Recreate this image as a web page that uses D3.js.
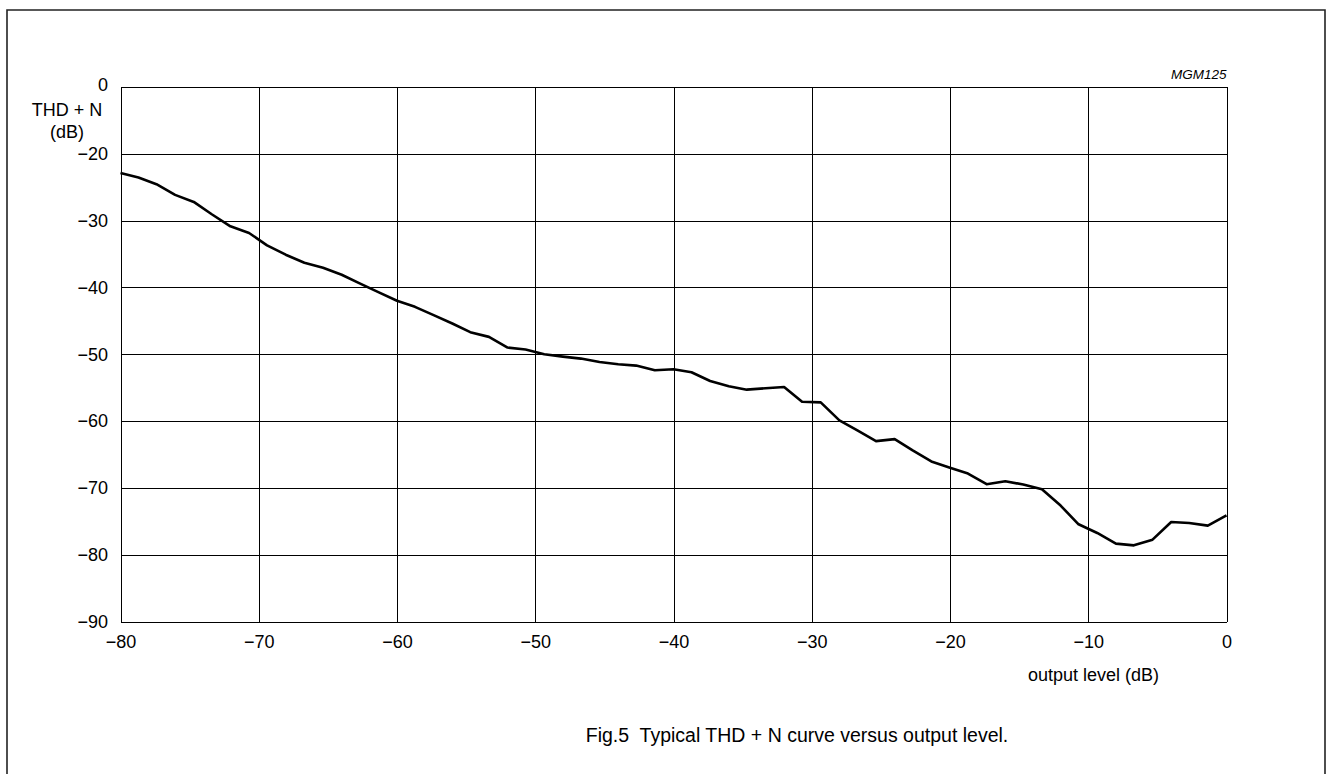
<!DOCTYPE html>
<html>
<head>
<meta charset="utf-8">
<script src="https://cdn.jsdelivr.net/npm/d3@7"></script>
<style>
  html, body { margin: 0; padding: 0; background: #fff; }
  svg { display: block; font-family: "Liberation Sans", Arial, sans-serif; }
</style>
</head>
<body>
<svg id="chart" width="1329" height="774"></svg>
<script>
// ---- data ----
const outputLevel = [-80, -78.7, -77.4, -76.05, -74.7, -73.4, -72.05, -70.7, -69.4, -68.05,
  -66.7, -65.35, -64.0, -62.7, -61.35, -60.0, -58.7, -57.35, -56.0, -54.7,
  -53.35, -52.0, -50.7, -49.35, -48.0, -46.7, -45.35, -44.0, -42.7, -41.35,
  -40.0, -38.7, -37.35, -36.0, -34.7, -33.35, -32.0, -30.7, -29.35, -28.0,
  -26.7, -25.35, -24.0, -22.7, -21.35, -20.0, -18.7, -17.35, -16.0, -14.7,
  -13.35, -12.0, -10.7, -9.35, -8.0, -6.7, -5.35, -4.0, -2.7, -1.35, 0];
const thdN = [-22.86, -23.55, -24.55, -26.15, -27.2, -29.05, -30.85, -31.85, -33.7, -35.1,
  -36.3, -37.05, -38.1, -39.4, -40.7, -42.0, -42.9, -44.15, -45.4, -46.7,
  -47.4, -49.0, -49.3, -50.0, -50.35, -50.65, -51.15, -51.5, -51.7, -52.4,
  -52.25, -52.7, -54.0, -54.8, -55.3, -55.1, -54.9, -57.1, -57.2, -59.9,
  -61.4, -63.0, -62.7, -64.4, -66.05, -67.0, -67.85, -69.45, -69.0, -69.5,
  -70.2, -72.65, -75.45, -76.75, -78.35, -78.6, -77.75, -75.1, -75.25, -75.65, -74.1];
const xTicks = [-80, -70, -60, -50, -40, -30, -20, -10, 0];
const yTicks = [0, -20, -30, -40, -50, -60, -70, -80, -90];
const yTickLabels = ["0", "\u221220", "\u221230", "\u221240", "\u221250", "\u221260", "\u221270", "\u221280", "\u221290"];
const xTickLabels = ["\u221280", "\u221270", "\u221260", "\u221250", "\u221240", "\u221230", "\u221220", "\u221210", "0"];
const yTitle = ["THD + N", "(dB)"];
const xTitle = "output level (dB)";
const figCode = "MGM125";
const caption = "Fig.5  Typical THD + N curve versus output level.";

// ---- layout ----
const svg = d3.select("#chart");
const L = 120.5, R = 1226.5, T = 87, B = 621.5;
const cell = (B - T) / 8;
const FS = 18;

// outer frame (open at the bottom)
svg.append("path")
  .attr("d", `M7,774 L7,10 L1325,10 L1325,774`)
  .attr("fill", "none").attr("stroke", "#222").attr("stroke-width", 1.6);

const x = d3.scaleLinear().domain([-80, 0]).range([L, R]);
// the top cell is compressed: 0 .. -20 occupies one grid cell
const y = d3.scaleLinear().domain([-90, -20, 0]).range([B, T + cell, T]);

const grid = svg.append("g").attr("shape-rendering", "crispEdges");
grid.selectAll("line.v").data(xTicks).join("line")
  .attr("x1", d => Math.round(x(d)) + 0.5).attr("x2", d => Math.round(x(d)) + 0.5)
  .attr("y1", T).attr("y2", B)
  .attr("stroke", "#000").attr("stroke-width", 1);
grid.selectAll("line.h").data(yTicks).join("line")
  .attr("y1", d => Math.round(y(d)) + 0.5).attr("y2", d => Math.round(y(d)) + 0.5)
  .attr("x1", L).attr("x2", R)
  .attr("stroke", "#000").attr("stroke-width", 1);

// axes labels via d3 axes (no domain/tick lines)
const yAxis = d3.axisLeft(y).tickValues(yTicks).tickSize(0).tickPadding(0)
  .tickFormat((d, i) => yTickLabels[i]);
const gy = svg.append("g").attr("transform", `translate(${108},0)`).call(yAxis);
gy.select(".domain").remove();
gy.selectAll("text").attr("font-size", FS).attr("fill", "#000")
  .attr("font-family", "Liberation Sans, Arial, sans-serif");
gy.selectAll(".tick").filter(d => d === 0).select("text").attr("dy", "0.2em");

const xAxis = d3.axisBottom(x).tickValues(xTicks).tickSize(0).tickPadding(0)
  .tickFormat((d, i) => xTickLabels[i]);
const gx = svg.append("g").attr("transform", `translate(0,${635})`).call(xAxis);
gx.select(".domain").remove();
gx.selectAll("text").attr("font-size", FS).attr("fill", "#000")
  .attr("font-family", "Liberation Sans, Arial, sans-serif");

// y title
svg.append("text").attr("x", 67).attr("y", 116).attr("text-anchor", "middle")
  .attr("font-size", FS).text(yTitle[0]);
svg.append("text").attr("x", 67).attr("y", 138).attr("text-anchor", "middle")
  .attr("font-size", FS).text(yTitle[1]);

// x title
svg.append("text").attr("x", 1028).attr("y", 681).attr("font-size", FS).text(xTitle);

// figure code
svg.append("text").attr("x", R).attr("y", 79).attr("text-anchor", "end")
  .attr("font-size", 13.5).attr("font-style", "italic").text(figCode);

// caption
svg.append("text").attr("x", 797).attr("y", 742).attr("text-anchor", "middle")
  .attr("font-size", 19.5).style("white-space", "pre").text(caption);

// curve
const pts = outputLevel.map((v, i) => [v, thdN[i]]);
svg.append("path").datum(pts)
  .attr("fill", "none").attr("stroke", "#000").attr("stroke-width", 2.6)
  .attr("stroke-linejoin", "round")
  .attr("d", d3.line().x(d => x(d[0])).y(d => y(d[1])));
</script>
</body>
</html>
